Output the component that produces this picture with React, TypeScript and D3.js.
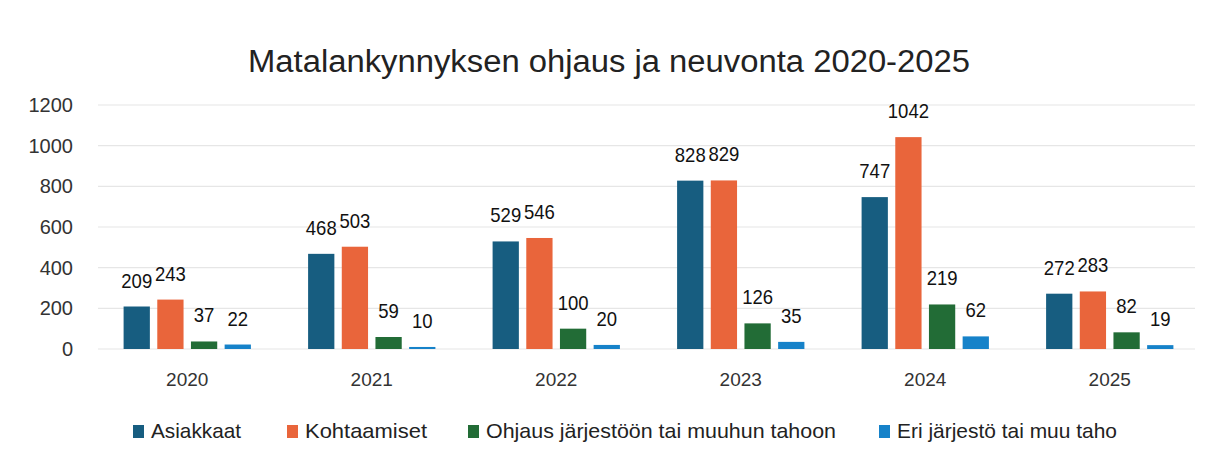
import React from "react";
import * as d3 from "d3";

const years = ["2020", "2021", "2022", "2023", "2024", "2025"];
const seriesNames = ["Asiakkaat", "Kohtaamiset", "Ohjaus järjestöön tai muuhun tahoon", "Eri järjestö tai muu taho"];
const asiakkaat = [209, 468, 529, 828, 747, 272];
const kohtaamiset = [243, 503, 546, 829, 1042, 283];
const ohjaus = [37, 59, 100, 126, 219, 82];
const eri = [22, 10, 20, 35, 62, 19];
const yTicks = [0, 200, 400, 600, 800, 1000, 1200];
const colors = ["#175d80", "#e9653b", "#226c36", "#1682c9"];

const W = 1217, H = 468;

export default function App() {
  const series = [asiakkaat, kohtaamiset, ohjaus, eri];
  const x0 = d3.scaleBand().domain(years).range([95, 1202]).paddingInner(0.31).paddingOuter(0.155);
  const x1 = d3.scaleBand().domain(seriesNames).range([0, x0.bandwidth()]).paddingInner(0.22);
  const y = d3.scaleLinear().domain([0, 1200]).range([349, 105]);
  const legendX = [133, 287, 468, 879];
  const legendW = [90, 122, 350, 220];
  const font = "'Liberation Sans', Arial, sans-serif";
  return (
    <svg width={W} height={H} style={{ position: "absolute", left: 0, top: 0, background: "#fff" }}>
      <rect x={0} y={0} width={W} height={H} fill="#fff" />
      <text x={248} y={72} fontFamily={font} fontSize={31} fill="#222" textLength={722} lengthAdjust="spacingAndGlyphs">
        Matalankynnyksen ohjaus ja neuvonta 2020-2025
      </text>
      {yTicks.map((t) => (
        <g key={t}>
          <line x1={98} x2={1195} y1={y(t)} y2={y(t)} stroke="#e6e6e6" strokeWidth={1.2} />
          <text x={73} y={y(t)} dy="0.35em" textAnchor="end" fontFamily={font} fontSize={20} fill="#333">{t}</text>
        </g>
      ))}
      {years.map((yr, i) => (
        <g key={yr} transform={`translate(${x0(yr)},0)`}>
          {seriesNames.map((s, j) => {
            const v = series[j][i];
            const bx = x1(s)!;
            const bw = x1.bandwidth();
            const len = String(v).length * 10.3;
            return (
              <g key={s}>
                <rect x={bx} y={y(v)} width={bw} height={y(0) - y(v)} fill={colors[j]} />
                <text x={bx + bw / 2} y={y(v) - 19} textAnchor="middle" fontFamily={font} fontSize={21} fill="#111" textLength={len} lengthAdjust="spacingAndGlyphs">{v}</text>
              </g>
            );
          })}
          <text x={x0.bandwidth() / 2} y={386} textAnchor="middle" fontFamily={font} fontSize={19} fill="#333">{yr}</text>
        </g>
      ))}
      {seriesNames.map((s, j) => (
        <g key={s}>
          <rect x={legendX[j]} y={425} width={11} height={13} fill={colors[j]} />
          <text x={legendX[j] + 18} y={438} fontFamily={font} fontSize={21} fill="#222" textLength={legendW[j]} lengthAdjust="spacingAndGlyphs">{s}</text>
        </g>
      ))}
    </svg>
  );
}
